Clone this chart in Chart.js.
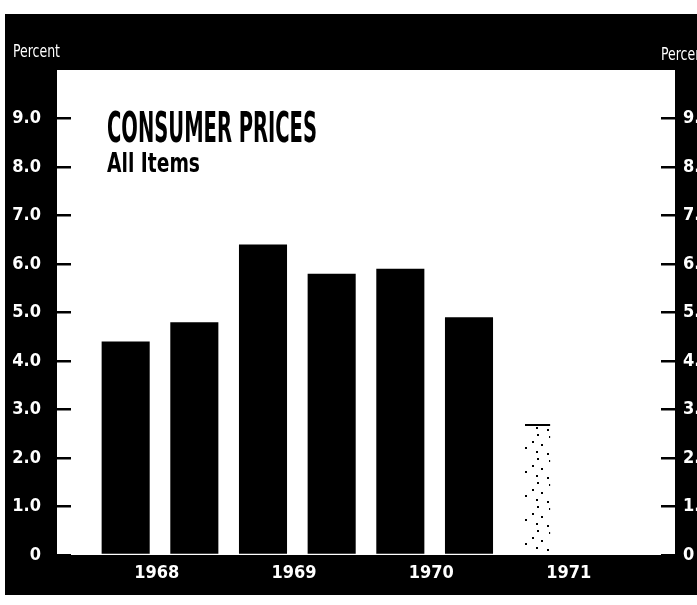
<!DOCTYPE html>
<html>
<head>
<meta charset="utf-8">
<script src="https://cdn.jsdelivr.net/npm/chart.js@4.4.1/dist/chart.umd.min.js"></script>
<style>
  html, body { margin: 0; padding: 0; background: #fff; }
  #wrap { width: 697px; height: 605px; position: relative; }
</style>
</head>
<body>
<div id="wrap"><canvas id="chart"></canvas></div>
<script>
// Half-year periods along the axis (the first and last carry no data)
var periods = ['1967 II', '1968 I', '1968 II', '1969 I', '1969 II', '1970 I', '1970 II', '1971 I', '1971 II', '1972 I'];
var yearLabels = ['1968', '1969', '1970', '1971'];

// Percent change, annual rate
var actual    = [null, 4.4, 4.8, 6.4, 5.8, 5.9, 4.9, null, null, null];
var projected = [null, null, null, null, null, null, null, 2.7, null, null];

var yTickLabels = ['0', '1.0', '2.0', '3.0', '4.0', '5.0', '6.0', '7.0', '8.0', '9.0'];

var titleText = 'CONSUMER PRICES';
var subtitleText = 'All Items';
var unitText = 'Percent';

var NARROW = "'Liberation Sans Narrow', 'DejaVu Sans Condensed', 'Roboto Condensed', sans-serif";

var canvas = document.getElementById('chart');
var ctx = canvas.getContext('2d');

// sparse dots for the projected bar
function makeDots() {
  var c = document.createElement('canvas');
  c.width = 26; c.height = 24;
  var g = c.getContext('2d');
  g.fillStyle = '#000';
  [[3, 4], [17, 2], [12, 9], [21, 12], [5, 15], [16, 19], [1, 21]].forEach(function(p) {
    g.fillRect(p[0], p[1], 2, 2);
  });
  return ctx.createPattern(c, 'repeat');
}

// black frame with a white plotting panel
var framePlugin = {
  id: 'frame',
  beforeDraw: function(chart) {
    var c = chart.ctx, a = chart.chartArea;
    c.save();
    c.fillStyle = '#fff';
    c.fillRect(0, 0, chart.width, chart.height);
    c.fillStyle = '#000';
    c.fillRect(5, 14, chart.width - 5, 581);
    c.fillStyle = '#fff';
    c.fillRect(a.left, a.top, a.right - a.left, a.bottom - a.top);
    c.restore();
  },
  afterDatasetsDraw: function(chart) {
    var c = chart.ctx, a = chart.chartArea;
    c.save();
    c.textBaseline = 'alphabetic';
    c.textAlign = 'left';
    c.fillStyle = '#000';
    c.font = 'bold 42px ' + NARROW;
    c.fillText(titleText, a.left + 50, a.top + 72, 210);
    c.font = 'bold 27px ' + NARROW;
    c.fillText(subtitleText, a.left + 50, a.top + 102, 93);
    c.fillStyle = '#fff';
    c.font = '18px ' + NARROW;
    c.fillText(unitText, 13, 57, 47);
    c.fillText(unitText, a.right - 14, 60, 47);
    c.restore();
  }
};

function keepNine(axis) {
  axis.ticks = axis.ticks.filter(function(t) { return t.value <= 9; });
}

function yAxis(pos, width, pad) {
  return {
    position: pos,
    min: 0,
    max: 10,
    afterBuildTicks: keepNine,
    afterFit: function(s) { s.width = width; },
    border: { display: false },
    grid: { drawOnChartArea: false, tickLength: -14, lineWidth: 2.5, color: '#000' },
    ticks: {
      stepSize: 1,
      padding: pad,
      color: '#fff',
      font: { family: NARROW, size: 18, weight: 'bold' },
      callback: function(v) { return yTickLabels[v]; }
    }
  };
}

new Chart(ctx, {
  type: 'bar',
  data: {
    labels: periods,
    datasets: [{
      label: 'Actual',
      data: actual,
      backgroundColor: '#000',
      grouped: false,
      barPercentage: 0.7,
      categoryPercentage: 1
    }, {
      label: 'Projected',
      data: projected,
      backgroundColor: makeDots(),
      borderColor: '#000',
      borderWidth: { top: 2, left: 0, right: 0, bottom: 0 },
      grouped: false,
      barPercentage: 0.37,
      categoryPercentage: 1
    }]
  },
  options: {
    responsive: true,
    maintainAspectRatio: false,
    animation: false,
    layout: { padding: { top: 70, left: 0, right: 0, bottom: 0 } },
    plugins: {
      legend: { display: false },
      tooltip: { enabled: false }
    },
    scales: {
      x: {
        type: 'category',
        offset: false,
        afterFit: function(s) { s.height = 50; },
        border: { display: false },
        grid: { display: false, drawTicks: false },
        ticks: {
          autoSkip: false,
          maxRotation: 0,
          padding: 8,
          labelOffset: 31,
          color: '#fff',
          font: { family: NARROW, size: 18, weight: 'bold' },
          callback: function(v) {
            var p = periods[v];
            var yr = p.split(' ')[0];
            return (p.split(' ')[1] === 'I' && yearLabels.indexOf(yr) >= 0) ? yr : '';
          }
        }
      },
      y: yAxis('left', 57, 30),
      y2: yAxis('right', 22, 22)
    }
  },
  plugins: [framePlugin]
});
</script>
</body>
</html>
